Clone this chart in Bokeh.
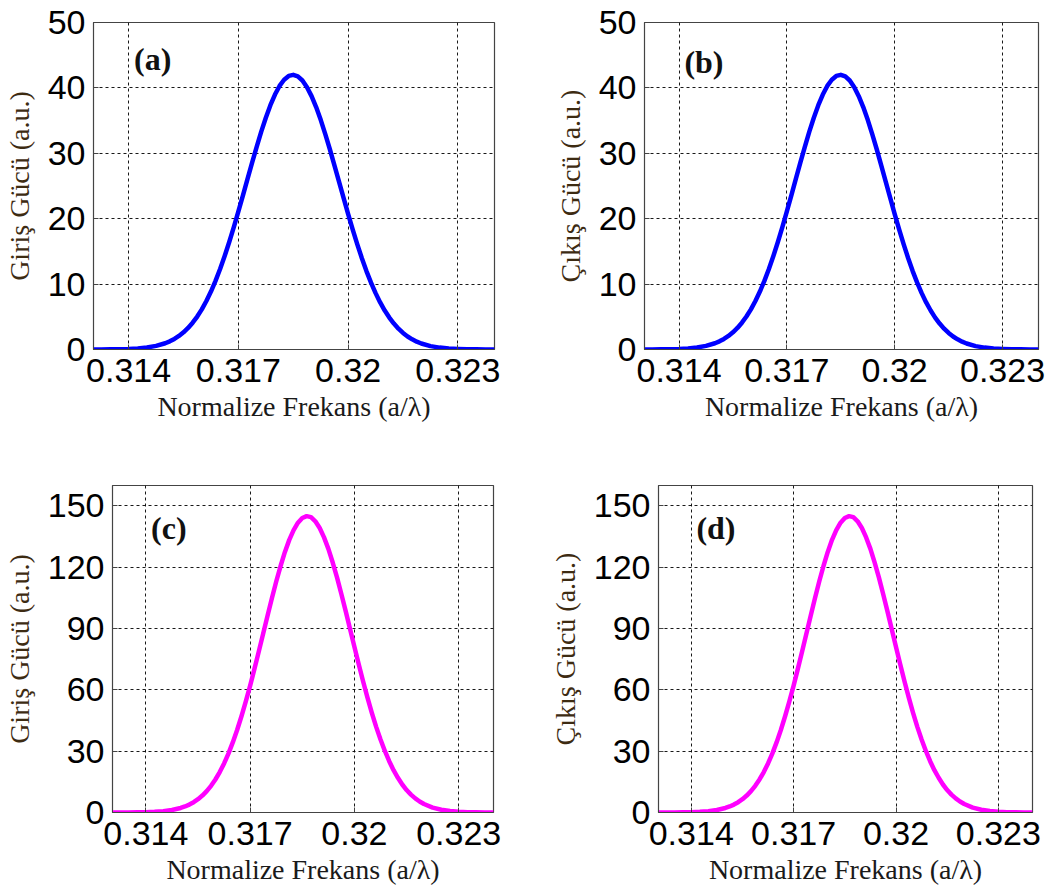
from bokeh.plotting import figure
from bokeh.layouts import column, row
from bokeh.models import Range1d, FixedTicker, Label
from bokeh.embed import file_html
from bokeh.resources import INLINE

# ---- data ----
freq = [0.31300, 0.31325, 0.31350, 0.31375, 0.31400, 0.31425, 0.31450, 0.31475,
        0.315000, 0.315125, 0.315250, 0.315375, 0.315500, 0.315625, 0.315750, 0.315875,
        0.316000, 0.316125, 0.316250, 0.316375, 0.316500, 0.316625, 0.316750, 0.316875,
        0.317000, 0.317125, 0.317250, 0.317375, 0.317500, 0.317625, 0.317750, 0.317875,
        0.318000, 0.318125, 0.318250, 0.318375, 0.318500, 0.318625, 0.318750, 0.318875,
        0.319000, 0.319125, 0.319250, 0.319375, 0.319500, 0.319625, 0.319750, 0.319875,
        0.320000, 0.320125, 0.320250, 0.320375, 0.320500, 0.320625, 0.320750, 0.320875,
        0.321000, 0.321125, 0.321250, 0.321375, 0.321500, 0.321625, 0.321750, 0.321875,
        0.32200, 0.32225, 0.32250, 0.32275, 0.32300, 0.32325, 0.32350, 0.32375, 0.32400]

input_a = [0.0, 0.01, 0.02, 0.04, 0.08, 0.16, 0.30, 0.55,
           0.96, 1.25, 1.62, 2.07, 2.63, 3.30, 4.10, 5.04,
           6.14, 7.42, 8.86, 10.50, 12.30, 14.29, 16.43, 18.70,
           21.11, 23.57, 26.09, 28.57, 30.99, 33.31, 35.44, 37.35,
           38.98, 40.30, 41.25, 41.83, 42.0, 41.76, 41.13, 40.11,
           38.74, 37.07, 35.12, 32.94, 30.62, 28.17, 25.68, 23.17,
           20.71, 18.34, 16.08, 13.96, 11.99, 10.22, 8.62, 7.20,
           5.96, 4.88, 3.96, 3.18, 2.53, 1.99, 1.56, 1.20,
           0.92, 0.52, 0.29, 0.15, 0.08, 0.04, 0.02, 0.01, 0.0]

output_b = [0.0, 0.01, 0.02, 0.04, 0.08, 0.16, 0.30, 0.55,
            0.96, 1.25, 1.62, 2.07, 2.63, 3.30, 4.10, 5.04,
            6.14, 7.42, 8.86, 10.50, 12.30, 14.29, 16.43, 18.70,
            21.11, 23.57, 26.09, 28.57, 30.99, 33.31, 35.44, 37.35,
            38.98, 40.30, 41.25, 41.83, 42.0, 41.76, 41.13, 40.11,
            38.74, 37.07, 35.12, 32.94, 30.62, 28.17, 25.68, 23.17,
            20.71, 18.34, 16.08, 13.96, 11.99, 10.22, 8.62, 7.20,
            5.96, 4.88, 3.96, 3.18, 2.53, 1.99, 1.56, 1.20,
            0.92, 0.52, 0.29, 0.15, 0.08, 0.04, 0.02, 0.01, 0.0]

input_c = [0.01, 0.02, 0.04, 0.08, 0.16, 0.34, 0.66, 1.24,
           2.23, 2.96, 3.88, 5.05, 6.50, 8.28, 10.44, 13.05,
           16.15, 19.78, 24.0, 28.81, 34.3, 40.37, 47.1, 54.35,
           62.1, 70.38, 78.9, 87.6, 96.3, 104.8, 113.0, 120.6,
           127.5, 133.4, 138.2, 141.8, 144.1, 145.0, 144.5, 142.5,
           139.2, 134.6, 129.0, 122.3, 114.9, 106.8, 98.4, 89.7,
           81.0, 72.4, 64.1, 56.2, 48.8, 41.9, 35.7, 30.1,
           25.1, 20.7, 17.0, 13.7, 11.0, 8.76, 6.89, 5.37,
           4.14, 2.39, 1.33, 0.71, 0.36, 0.18, 0.09, 0.04, 0.02]

output_d = [0.01, 0.02, 0.04, 0.08, 0.16, 0.34, 0.66, 1.24,
            2.23, 2.96, 3.88, 5.05, 6.50, 8.28, 10.44, 13.05,
            16.15, 19.78, 24.0, 28.81, 34.3, 40.37, 47.1, 54.35,
            62.1, 70.38, 78.9, 87.6, 96.3, 104.8, 113.0, 120.6,
            127.5, 133.4, 138.2, 141.8, 144.1, 145.0, 144.5, 142.5,
            139.2, 134.6, 129.0, 122.3, 114.9, 106.8, 98.4, 89.7,
            81.0, 72.4, 64.1, 56.2, 48.8, 41.9, 35.7, 30.1,
            25.1, 20.7, 17.0, 13.7, 11.0, 8.76, 6.89, 5.37,
            4.14, 2.39, 1.33, 0.71, 0.36, 0.18, 0.09, 0.04, 0.02]

x_ticks = [0.314, 0.317, 0.320, 0.323]
x_tick_labels = {0.314: "0.314", 0.317: "0.317", 0.32: "0.32", 0.323: "0.323"}
y_ticks_top = [0, 10, 20, 30, 40, 50]
y_ticks_bottom = [0, 30, 60, 90, 120, 150]

x_label = "Normalize Frekans (a/λ)"
y_label_in = "Giriş Gücü (a.u.)"
y_label_out = "Çıkış Gücü (a.u.)"

X_MIN, X_MAX = 0.31304, 0.32400


def make_panel(xs, ys, color, ylab, ymax, yticks, tag, tag_y,
               w, h, bl, br, bt, bb):
    p = figure(width=w, height=h, output_backend="svg", toolbar_location=None,
               x_range=Range1d(X_MIN, X_MAX), y_range=Range1d(0, ymax),
               min_border_left=bl, min_border_right=br,
               min_border_top=bt, min_border_bottom=bb)
    p.background_fill_color = "white"
    p.border_fill_color = "white"
    p.outline_line_color = "#444444"
    p.outline_line_width = 1.2

    for ax in (p.xaxis, p.yaxis):
        ax.axis_line_color = "#444444"
        ax.major_tick_out = 0
        ax.major_tick_in = 5
        ax.major_tick_line_color = "#444444"
        ax.minor_tick_line_color = None
        ax.major_label_text_font = "Liberation Sans"
        ax.major_label_text_font_size = "34px"
        ax.major_label_text_color = "black"
        ax.axis_label_text_font = "Liberation Serif"
        ax.axis_label_text_font_size = "28px"
        ax.axis_label_text_font_style = "normal"

    p.xaxis.ticker = FixedTicker(ticks=x_ticks)
    p.xaxis.major_label_overrides = x_tick_labels
    p.xaxis.major_label_standoff = 9
    p.xaxis.axis_label = x_label
    p.xaxis.axis_label_standoff = 6
    p.xaxis.axis_label_text_color = "#1a1a1a"

    p.yaxis.ticker = FixedTicker(ticks=yticks)
    p.yaxis.major_label_standoff = 8
    p.yaxis.axis_label = ylab
    p.yaxis.axis_label_standoff = 10
    p.yaxis.axis_label_text_color = "#3d2b12"

    for g in (p.xgrid, p.ygrid):
        g.grid_line_color = "black"
        g.grid_line_dash = "3 3"
        g.grid_line_width = 1
        g.grid_line_alpha = 0.9

    p.line(xs, ys, line_color=color, line_width=4.5, line_join="round")

    p.add_layout(Label(x=0.31415, y=tag_y, text=tag,
                       text_font="Liberation Serif", text_font_size="32px",
                       text_font_style="bold", text_color="#111111",
                       text_baseline="middle", text_align="left"))
    return p


pa = make_panel(freq, input_a, "#0000ff", y_label_in, 50, y_ticks_top, "(a)", 44.4,
                530, 440, 91, 36, 20, 91)
pb = make_panel(freq, output_b, "#0000ff", y_label_out, 50, y_ticks_top, "(b)", 44.0,
                533, 440, 114, 25, 22, 89)
pc = make_panel(freq, input_c, "#ff00ff", y_label_in, 160, y_ticks_bottom, "(c)", 139,
                530, 451, 111, 37, 44, 79)
pd = make_panel(freq, output_d, "#ff00ff", y_label_out, 160, y_ticks_bottom, "(d)", 139,
                533, 451, 128, 31, 45, 78)

layout = column(row(pa, pb), row(pc, pd))
open("out.html", "w").write(file_html(layout, INLINE))
